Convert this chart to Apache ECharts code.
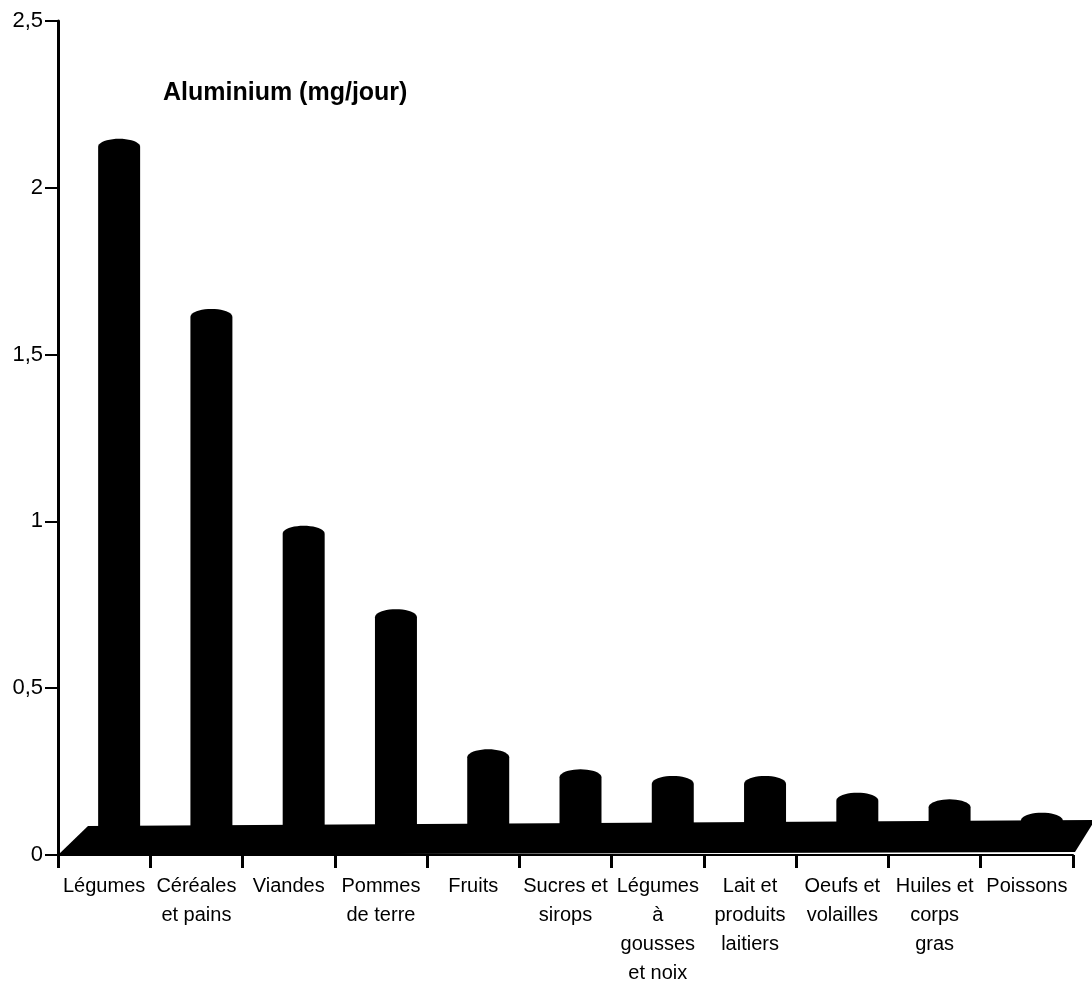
<!DOCTYPE html>
<html>
<head>
<meta charset="utf-8">
<script src="https://cdn.jsdelivr.net/npm/echarts@6/dist/echarts.min.js"></script>
<style>
html,body{margin:0;padding:0;background:#fff;}
#chart{width:1092px;height:983px;}
</style>
</head>
<body>
<div id="chart"></div>
<script>
// ---- data ----
var categories = [
  "Légumes", "Céréales\net pains", "Viandes", "Pommes\nde terre", "Fruits",
  "Sucres et\nsirops", "Légumes\nà\ngousses\net noix", "Lait et\nproduits\nlaitiers",
  "Oeufs et\nvolailles", "Huiles et\ncorps\ngras", "Poissons"
];
var values = [2.09, 1.58, 0.93, 0.68, 0.26, 0.20, 0.18, 0.18, 0.13, 0.11, 0.07];
var titleText = "Aluminium (mg/jour)";
var yMin = 0, yMax = 2.5, yStep = 0.5;

// ---- chart ----
var chart = echarts.init(document.getElementById('chart'), null, {renderer: 'canvas'});
var FONT = '"Liberation Sans", Arial, sans-serif';
var DEPTH_X = 15, DEPTH_Y = 15; // bar placed mid-depth on the floor

function floorItem(params, api) {
  var band = api.size([1, 0])[0];
  var p0 = api.coord([0, 0]);
  var pN = api.coord([categories.length - 1, 0]);
  var left = p0[0] - band / 2;
  var right = pN[0] + band / 2;
  var y0 = p0[1];
  return {
    type: 'polygon',
    shape: {points: [
      [left, y0], [left + 30, y0 - 29], [right + 22, y0 - 35], [right + 2, y0 - 3]
    ]},
    style: {fill: '#000'}
  };
}

function barItem(params, api) {
  var idx = api.value(0);
  var v = api.value(1);
  var band = api.size([1, 0])[0];
  var w = band * 0.455;
  var pv = api.coord([idx, v]);
  var pb = api.coord([idx, 0]);
  var cx = pv[0] + DEPTH_X;
  var yv = pv[1] - DEPTH_Y;
  var yb = pb[1] - DEPTH_Y;
  var ry = 4;
  var sideTop = yv + ry;
  var pts = [[cx - w / 2, yb], [cx - w / 2, sideTop]];
  var n = 20;
  for (var k = 0; k <= n; k++) {
    var a = Math.PI - Math.PI * k / n;
    pts.push([cx + Math.cos(a) * w / 2, sideTop - Math.sin(a) * ry * 2]);
  }
  pts.push([cx + w / 2, yb]);
  return {
    type: 'polygon',
    shape: {points: pts},
    style: {fill: '#000'}
  };
}

var option = {
  backgroundColor: '#fff',
  animation: false,
  title: {
    text: titleText,
    left: 158, top: 76,
    textStyle: {fontFamily: FONT, fontSize: 25, fontWeight: 'bold', color: '#000'}
  },
  grid: {left: 58, right: 19, top: 21, bottom: 128, containLabel: false, outerBoundsMode: 'none'},
  xAxis: {
    type: 'category',
    data: categories,
    boundaryGap: true,
    axisLine: {show: true, lineStyle: {color: '#000', width: 2}},
    axisTick: {show: true, alignWithLabel: false, interval: 0, length: 13, lineStyle: {color: '#000', width: 3}},
    axisLabel: {interval: 0, margin: 17, color: '#000', fontFamily: FONT, fontSize: 20, lineHeight: 29, align: 'center'},
    splitLine: {show: false}
  },
  yAxis: {
    type: 'value',
    min: yMin, max: yMax, interval: yStep,
    axisLine: {show: true, lineStyle: {color: '#000', width: 3}},
    axisTick: {show: true, inside: false, length: 13, lineStyle: {color: '#000', width: 2}},
    axisLabel: {
      color: '#000', fontFamily: FONT, fontSize: 22, margin: 15,
      formatter: function (v) { return String(v).replace('.', ','); }
    },
    splitLine: {show: false}
  },
  series: [
    {
      type: 'custom',
      name: 'floor',
      renderItem: floorItem,
      data: [[0, 0]],
      encode: {x: 0, y: 1},
      z: 2,
      silent: true
    },
    {
      type: 'custom',
      name: 'Aluminium',
      renderItem: barItem,
      data: values.map(function (v, i) { return [i, v]; }),
      encode: {x: 0, y: 1},
      z: 3
    }
  ]
};
chart.setOption(option);
</script>
</body>
</html>
